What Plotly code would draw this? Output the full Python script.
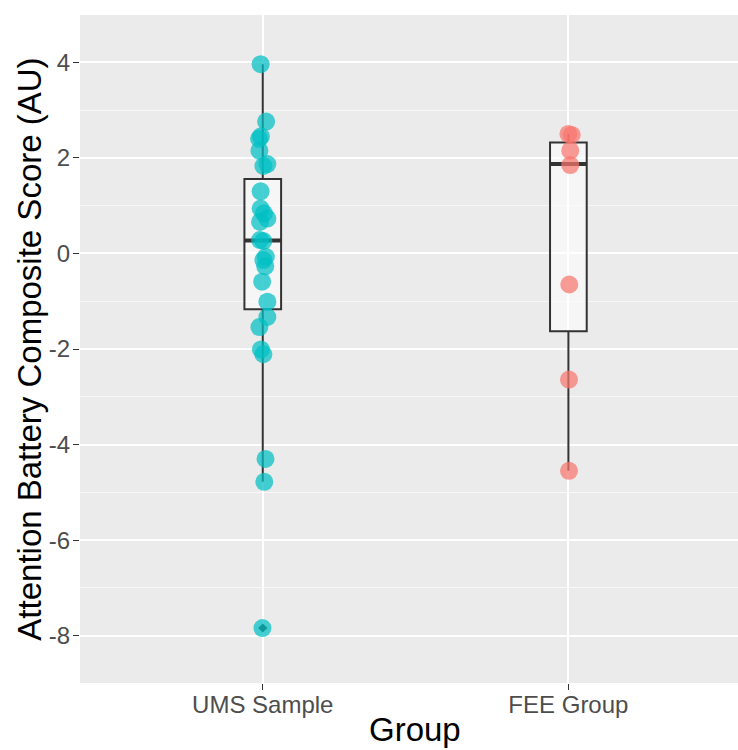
import plotly.graph_objects as go

# ---------------- data ----------------
groups = ["UMS Sample", "FEE Group"]
group_pos = [1, 2]
group_colors = ["#00BFC4", "#F8766D"]

ums_scores = [3.96, 2.76, 2.45, 2.40, 2.15, 1.87, 1.83, 1.30, 0.94, 0.84, 0.73, 0.66,
              0.28, 0.26, -0.07, -0.14, -0.27, -0.59, -1.01, -1.33, -1.54, -2.01,
              -2.11, -4.30, -4.78, -7.84]
ums_jitter = [-0.007, 0.011, -0.006, -0.012, -0.011, 0.015, 0.002, -0.007, -0.007, 0.004,
              0.015, -0.009, -0.009, 0.002, 0.010, 0.002, 0.008, -0.002, 0.015, 0.015,
              -0.011, -0.006, 0.002, 0.009, 0.005, -0.001]

fee_scores = [2.50, 2.48, 2.15, 1.85, -0.65, -2.64, -4.55]
fee_jitter = [0.000, 0.011, 0.006, 0.006, 0.003, 0.002, 0.002]

# box statistics
box_q1 = [-1.17, -1.63]
box_median = [0.27, 1.87]
box_q3 = [1.56, 2.32]
box_lower = [-4.78, -4.55]
box_upper = [3.96, 2.50]

y_ticks = [-8, -6, -4, -2, 0, 2, 4]
y_title = "Attention Battery Composite Score (AU)"
x_title = "Group"

# ---------------- figure ----------------
BOX_W = 0.12
fig = go.Figure()

for i in range(len(groups)):
    fig.add_trace(go.Box(
        x=[group_pos[i]], q1=[box_q1[i]], median=[box_median[i]], q3=[box_q3[i]],
        lowerfence=[box_lower[i]], upperfence=[box_upper[i]],
        width=BOX_W, whiskerwidth=0, boxpoints=False,
        fillcolor="rgba(255,255,255,0.55)",
        line=dict(color="#333333", width=2),
        hoverinfo="skip", showlegend=False,
    ))
    # thicker median bar like ggplot
    fig.add_trace(go.Scatter(
        x=[group_pos[i] - BOX_W / 2, group_pos[i] + BOX_W / 2],
        y=[box_median[i], box_median[i]],
        mode="lines", line=dict(color="#333333", width=4),
        hoverinfo="skip", showlegend=False,
    ))

# outlier marker from boxplot (beneath jittered points)
all_scores = [ums_scores, fee_scores]
all_jitter = [ums_jitter, fee_jitter]
for i in range(len(groups)):
    outs = [v for v in all_scores[i] if v < box_lower[i] - 1e-6 or v > box_upper[i] + 1e-6]
    if outs:
        fig.add_trace(go.Scatter(
            x=[group_pos[i]] * len(outs), y=outs, mode="markers",
            marker=dict(symbol="diamond", size=7, color="#333333"),
            hoverinfo="skip", showlegend=False,
        ))

for i in range(len(groups)):
    fig.add_trace(go.Scatter(
        x=[group_pos[i] + j for j in all_jitter[i]], y=all_scores[i],
        mode="markers",
        marker=dict(size=18, color=group_colors[i], opacity=0.72, line=dict(width=0)),
        name=groups[i], showlegend=False,
    ))

TICK_FONT = dict(family="Liberation Sans, Arial, sans-serif", size=24, color="#4D4D4D")
TITLE_FONT = dict(family="Liberation Sans, Arial, sans-serif", size=33, color="#000000")

fig.update_layout(
    width=738, height=750,
    margin=dict(l=80, r=0, t=15, b=67, pad=0),
    paper_bgcolor="white", plot_bgcolor="#EBEBEB",
    showlegend=False,
    xaxis=dict(
        range=[0.402, 2.555], tickmode="array", tickvals=group_pos, ticktext=groups,
        showgrid=True, gridcolor="white", gridwidth=2, zeroline=False,
        ticks="outside", ticklen=6, tickwidth=1.2, tickcolor="#333333",
        tickfont=TICK_FONT, showline=False, ticklabelstandoff=-6,
    ),
    yaxis=dict(
        range=[-8.99, 4.99], tickmode="array", tickvals=y_ticks,
        ticktext=[str(t) if t >= 0 else "-" + str(abs(t)) for t in y_ticks],
        showgrid=True, gridcolor="white", gridwidth=2, zeroline=False,
        minor=dict(dtick=1, tick0=1, showgrid=True, gridcolor="#F7F7F7", gridwidth=1, ticks=""),
        ticks="outside", ticklen=6, tickwidth=1.2, tickcolor="#333333",
        tickfont=TICK_FONT, showline=False, ticklabelstandoff=-2,
    ),
    annotations=[
        dict(text=x_title, xref="paper", yref="paper", x=0.509, y=-0.069,
             xanchor="center", yanchor="middle", showarrow=False, font=TITLE_FONT),
        dict(text=y_title, xref="paper", yref="paper", x=-0.078, y=0.5,
             xanchor="center", yanchor="middle", showarrow=False, textangle=-90,
             font=TITLE_FONT),
    ],
)

fig.write_html("out.html", config={"displayModeBar": False},
               post_script="document.body.style.margin='0';document.body.style.padding='0';")
